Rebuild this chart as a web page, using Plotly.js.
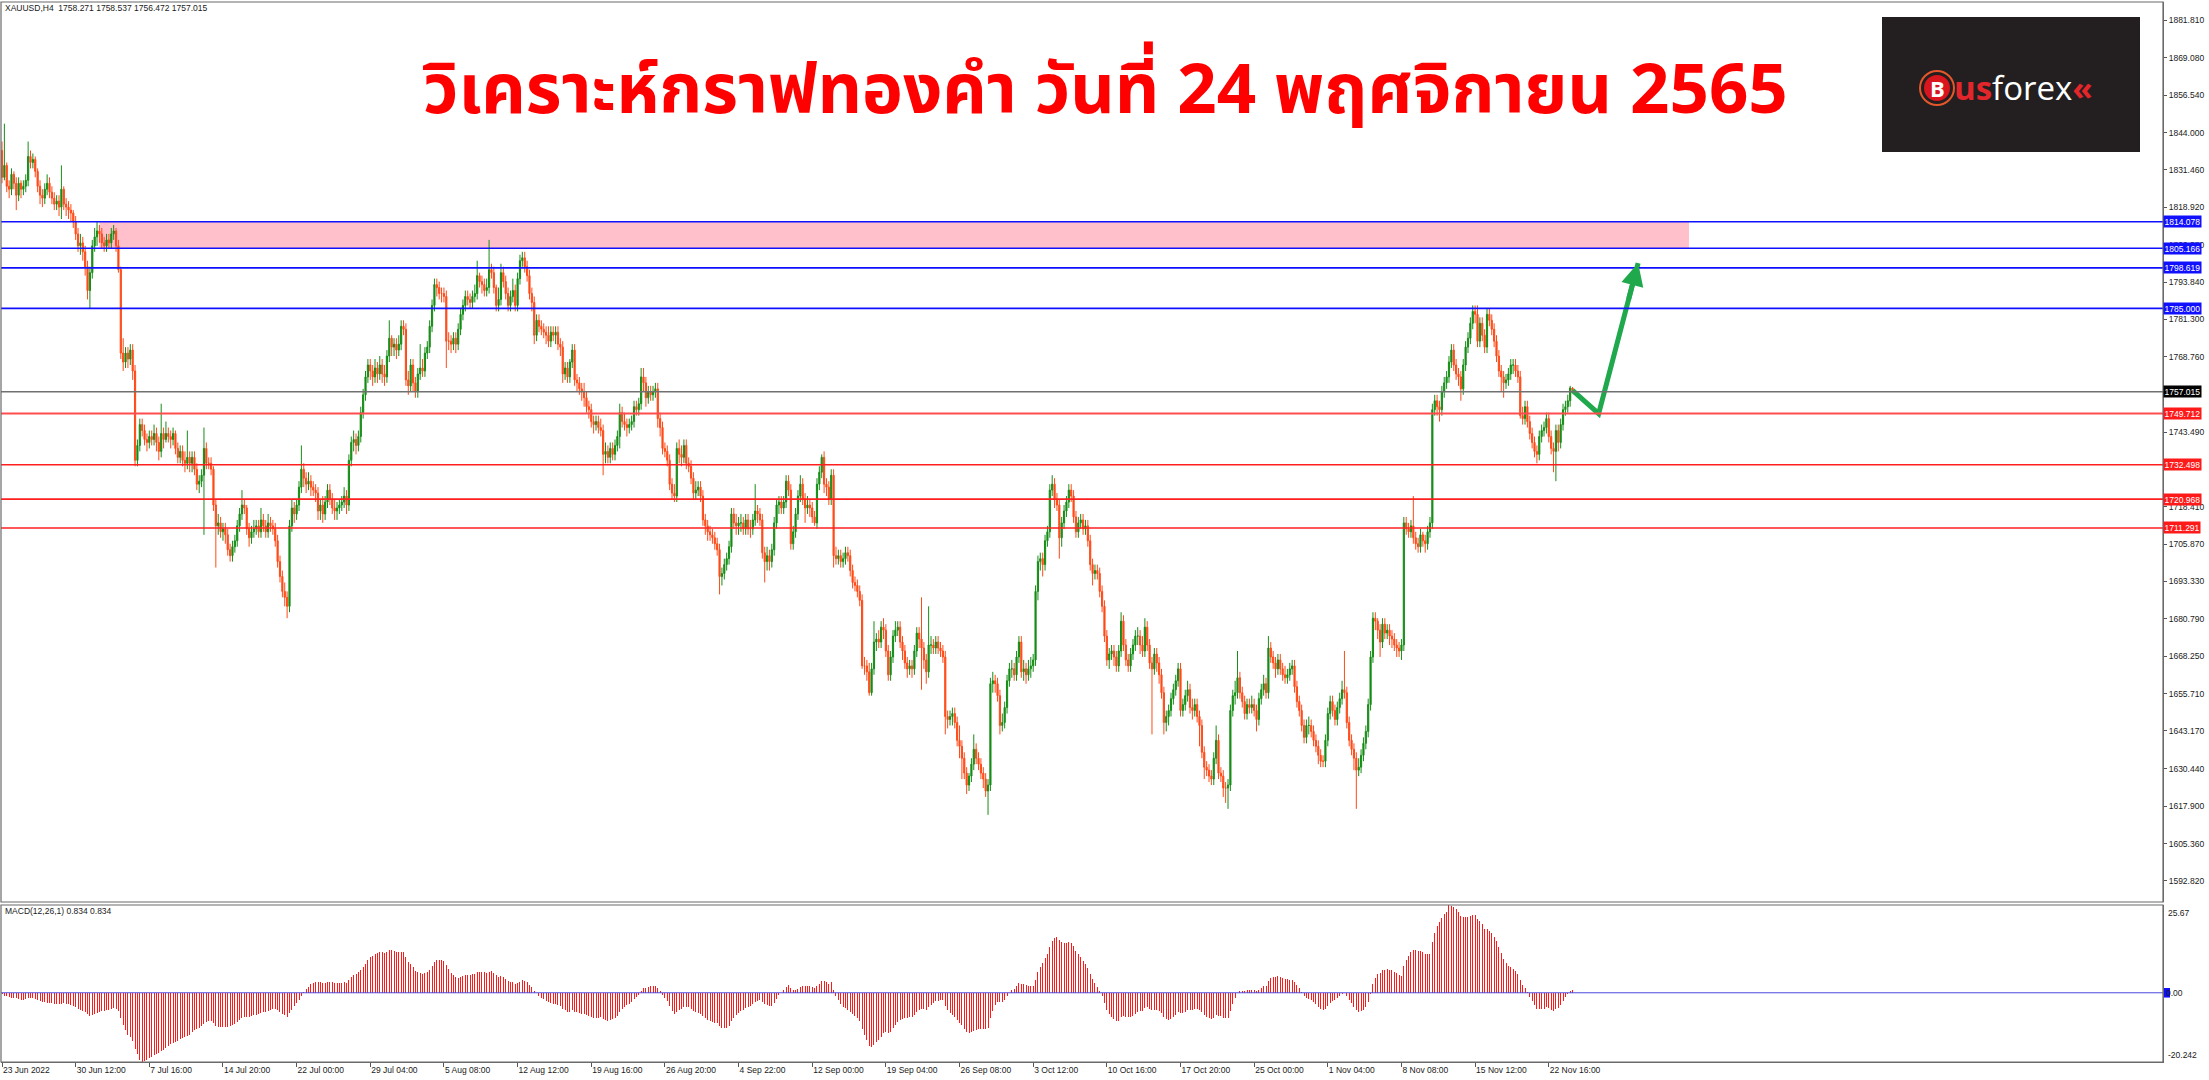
<!DOCTYPE html>
<html><head><meta charset="utf-8">
<script src="https://cdn.plot.ly/plotly-3.0.1.min.js"></script>
<style>html,body{margin:0;padding:0;background:#fff;}#chart{width:2209px;height:1080px;}</style>
</head><body><div id="chart"></div>
<script>
// ---- DATA (XAUUSD H4) ----
const opens = [
1838,1829,1833,1826,1825,1830,1827,1823,1827,1825,
1826,1828,1836,1834,1835,1831,1826,1823,1822,1825,
1827,1824,1822,1820,1821,1819,1825,1820,1819,1818,
1817,1814,1810,1806,1807,1804,1799,1791,1797,1806,
1809,1811,1810,1807,1806,1808,1807,1810,1811,1806,
1798,1770,1767,1770,1768,1771,1764,1734,1739,1746,
1744,1741,1740,1742,1741,1743,1740,1737,1743,1741,
1743,1742,1741,1743,1738,1735,1737,1734,1733,1735,
1733,1735,1731,1726,1727,1729,1738,1733,1733,1731,
1719,1712,1713,1710,1711,1709,1704,1702,1705,1707,
1712,1716,1719,1718,1711,1708,1710,1711,1712,1710,
1714,1712,1710,1713,1712,1711,1707,1700,1695,1690,
1688,1685,1712,1718,1716,1719,1725,1731,1728,1726,
1727,1725,1724,1723,1717,1719,1716,1720,1724,1721,
1718,1717,1718,1719,1720,1722,1719,1734,1740,1741,
1739,1742,1750,1756,1762,1766,1764,1762,1765,1763,
1766,1763,1762,1769,1775,1772,1773,1771,1773,1779,
1778,1761,1759,1766,1760,1757,1763,1765,1764,1770,
1772,1779,1786,1793,1792,1790,1790,1789,1774,1774,
1773,1775,1773,1778,1783,1786,1789,1788,1787,1789,
1790,1796,1794,1793,1791,1792,1798,1797,1792,1786,
1788,1797,1794,1790,1786,1789,1791,1786,1795,1801,
1802,1799,1796,1790,1787,1776,1781,1779,1778,1777,
1776,1774,1777,1776,1777,1773,1772,1763,1765,1762,
1767,1771,1761,1760,1758,1757,1755,1752,1751,1747,
1746,1747,1745,1744,1736,1737,1735,1738,1736,1739,
1742,1750,1747,1746,1745,1746,1747,1752,1751,1753,
1762,1760,1755,1757,1756,1757,1758,1748,1745,1738,
1737,1734,1726,1723,1722,1738,1736,1735,1739,1733,
1732,1728,1723,1724,1725,1722,1714,1712,1710,1709,
1708,1706,1704,1695,1696,1699,1701,1705,1716,1713,
1712,1713,1713,1711,1714,1711,1711,1714,1717,1716,
1714,1703,1700,1702,1700,1704,1713,1719,1720,1718,
1720,1727,1724,1706,1710,1716,1722,1726,1721,1718,
1719,1718,1715,1713,1726,1730,1735,1726,1725,1721,
1729,1702,1701,1702,1700,1701,1703,1702,1697,1693,
1692,1690,1687,1665,1665,1663,1656,1664,1673,1674,
1673,1678,1677,1670,1662,1668,1675,1677,1678,1673,
1670,1666,1664,1665,1664,1670,1676,1674,1671,1667,
1663,1672,1672,1671,1673,1671,1670,1668,1648,1647,
1648,1649,1646,1640,1638,1634,1629,1625,1628,1632,
1637,1634,1632,1629,1627,1623,1625,1659,1660,1659,
1655,1645,1646,1651,1660,1664,1664,1662,1668,1673,
1663,1664,1662,1664,1665,1667,1690,1700,1701,1699,
1707,1710,1724,1726,1721,1719,1708,1713,1717,1720,
1724,1722,1715,1710,1713,1714,1711,1712,1707,1699,
1696,1697,1696,1690,1685,1675,1667,1669,1670,1668,
1665,1670,1680,1672,1667,1665,1669,1672,1675,1675,
1672,1670,1678,1672,1666,1664,1669,1666,1662,1656,
1646,1648,1650,1654,1657,1660,1664,1650,1652,1655,
1657,1651,1650,1652,1648,1645,1636,1631,1630,1628,
1627,1634,1640,1629,1628,1624,1624,1625,1650,1655,
1656,1661,1656,1653,1649,1652,1651,1652,1650,1647,
1654,1657,1659,1656,1671,1668,1666,1664,1667,1664,
1662,1661,1662,1664,1665,1658,1653,1650,1645,1641,
1645,1645,1643,1640,1638,1635,1633,1633,1640,1649,
1653,1650,1647,1651,1654,1657,1656,1646,1640,1637,
1634,1630,1631,1635,1639,1643,1652,1668,1681,1680,
1677,1673,1679,1676,1677,1675,1674,1672,1671,1670,
1672,1713,1711,1710,1712,1708,1706,1705,1709,1707,
1706,1710,1713,1751,1754,1752,1751,1757,1760,1762,
1767,1771,1766,1763,1762,1758,1766,1772,1775,1780,
1784,1783,1774,1780,1776,1772,1783,1781,1778,1774,
1769,1764,1762,1760,1761,1763,1766,1766,1764,1762,
1749,1748,1752,1747,1743,1740,1737,1736,1742,1744,
1745,1748,1742,1738,1737,1744,1740,1746,1751,1752,
1754,1758.271];
const highs = [
1841,1847,1834,1828,1832,1831,1829,1829,1828,1828,
1830,1841,1838,1837,1836,1832,1828,1825,1827,1830,
1829,1826,1824,1823,1823,1833,1826,1822,1821,1820,
1818,1816,1812,1810,1809,1806,1801,1799,1808,1812,
1814,1813,1812,1809,1810,1810,1812,1813,1812,1808,
1799,1775,1772,1772,1773,1773,1766,1741,1748,1748,
1746,1743,1744,1744,1746,1745,1742,1753,1745,1747,
1745,1744,1745,1744,1740,1739,1739,1737,1744,1737,
1737,1737,1733,1729,1731,1745,1740,1735,1735,1732,
1721,1716,1715,1713,1713,1711,1706,1707,1709,1714,
1718,1724,1721,1719,1713,1712,1714,1714,1714,1718,
1716,1714,1716,1715,1714,1713,1709,1702,1697,1693,
1690,1714,1721,1720,1721,1727,1739,1733,1730,1730,
1729,1727,1726,1725,1721,1722,1722,1726,1726,1723,
1721,1720,1721,1722,1725,1724,1736,1742,1744,1743,
1744,1752,1758,1764,1768,1768,1766,1768,1767,1769,
1768,1766,1771,1781,1776,1775,1775,1776,1781,1781,
1780,1764,1768,1768,1762,1765,1773,1768,1772,1774,
1781,1788,1795,1795,1794,1792,1792,1791,1777,1776,
1777,1777,1780,1785,1788,1791,1791,1790,1791,1793,
1801,1797,1796,1795,1795,1808,1800,1799,1793,1792,
1800,1799,1796,1792,1791,1795,1793,1797,1803,1804,
1804,1801,1798,1792,1789,1783,1783,1781,1780,1779,
1779,1779,1779,1779,1779,1775,1774,1767,1767,1768,
1773,1773,1763,1762,1760,1760,1757,1754,1753,1749,
1749,1749,1748,1746,1740,1739,1740,1740,1741,1744,
1753,1752,1750,1748,1748,1749,1754,1754,1755,1765,
1765,1762,1759,1759,1759,1760,1760,1750,1747,1740,
1739,1736,1728,1726,1740,1741,1739,1741,1741,1735,
1734,1730,1727,1727,1727,1724,1716,1714,1712,1711,
1710,1708,1706,1698,1701,1703,1707,1718,1718,1716,
1715,1716,1715,1716,1716,1714,1716,1726,1719,1718,
1716,1705,1705,1704,1706,1715,1721,1722,1722,1722,
1729,1729,1726,1712,1718,1724,1729,1728,1723,1722,
1721,1720,1717,1728,1732,1736,1737,1728,1727,1731,
1731,1705,1704,1704,1703,1705,1705,1704,1699,1695,
1694,1692,1689,1668,1667,1666,1666,1680,1676,1677,
1680,1681,1679,1672,1670,1677,1680,1680,1680,1675,
1672,1668,1667,1667,1672,1678,1678,1688,1673,1669,
1685,1675,1674,1675,1675,1673,1672,1670,1650,1650,
1651,1651,1648,1645,1640,1636,1631,1629,1634,1642,
1639,1636,1634,1631,1629,1627,1661,1663,1662,1661,
1657,1649,1653,1662,1666,1667,1666,1670,1675,1675,
1667,1666,1667,1668,1669,1692,1702,1703,1703,1709,
1712,1726,1729,1728,1723,1721,1715,1719,1722,1726,
1726,1724,1717,1715,1716,1716,1714,1714,1709,1701,
1699,1699,1698,1692,1687,1677,1671,1672,1672,1670,
1672,1683,1682,1674,1669,1671,1674,1677,1678,1677,
1675,1681,1680,1674,1668,1671,1671,1668,1664,1658,
1650,1652,1656,1659,1662,1666,1666,1654,1657,1660,
1659,1654,1654,1654,1650,1647,1638,1633,1632,1630,
1636,1645,1642,1631,1630,1626,1627,1652,1657,1660,
1670,1663,1658,1655,1654,1654,1655,1654,1652,1656,
1659,1662,1661,1675,1673,1670,1668,1669,1669,1666,
1665,1664,1666,1667,1667,1660,1655,1652,1647,1647,
1648,1647,1645,1642,1640,1637,1635,1642,1651,1655,
1655,1652,1653,1656,1660,1670,1658,1648,1642,1639,
1636,1634,1637,1641,1645,1654,1670,1683,1683,1681,
1679,1681,1681,1679,1679,1677,1676,1674,1673,1674,
1715,1715,1713,1714,1722,1710,1708,1711,1710,1709,
1712,1715,1753,1756,1756,1754,1759,1762,1764,1769,
1773,1773,1768,1765,1764,1768,1774,1777,1782,1786,
1786,1786,1782,1782,1778,1785,1785,1783,1780,1776,
1771,1766,1764,1763,1765,1768,1768,1768,1766,1764,
1752,1754,1754,1749,1745,1742,1739,1744,1746,1747,
1750,1750,1744,1740,1746,1746,1748,1753,1754,1756,
1759,1758.537];
const lows = [
1827,1828,1824,1822,1823,1825,1818,1821,1822,1823,
1824,1826,1832,1832,1829,1824,1820,1819,1820,1823,
1822,1820,1818,1818,1816,1815,1818,1816,1815,1814,
1812,1808,1804,1803,1801,1796,1788,1785,1795,1804,
1806,1807,1805,1804,1804,1805,1805,1808,1804,1797,
1768,1764,1765,1765,1766,1761,1732,1732,1737,1742,
1739,1737,1738,1739,1739,1737,1734,1735,1738,1740,
1740,1738,1739,1736,1733,1733,1732,1730,1731,1730,
1730,1729,1724,1723,1725,1709,1731,1731,1729,1717,
1698,1709,1708,1707,1706,1702,1700,1700,1703,1705,
1710,1714,1716,1709,1705,1706,1708,1709,1708,1708,
1710,1708,1708,1710,1709,1705,1698,1693,1688,1685,
1681,1683,1710,1713,1714,1717,1723,1725,1723,1724,
1722,1722,1720,1714,1714,1713,1714,1718,1719,1716,
1714,1714,1716,1717,1718,1716,1717,1732,1737,1736,
1737,1740,1748,1754,1760,1761,1759,1760,1760,1761,
1760,1759,1760,1767,1769,1769,1768,1769,1771,1776,
1759,1756,1757,1757,1755,1755,1761,1762,1762,1768,
1770,1777,1784,1789,1788,1787,1787,1765,1771,1770,
1771,1770,1771,1776,1781,1784,1786,1785,1785,1787,
1788,1792,1790,1789,1789,1790,1795,1790,1784,1784,
1786,1792,1788,1784,1784,1787,1784,1784,1793,1799,
1797,1794,1788,1784,1773,1774,1777,1776,1775,1773,
1772,1772,1774,1773,1771,1769,1760,1761,1760,1760,
1765,1759,1757,1756,1754,1752,1750,1748,1745,1743,
1744,1743,1742,1729,1733,1733,1733,1734,1734,1737,
1738,1745,1744,1742,1743,1744,1745,1749,1749,1751,
1757,1752,1753,1754,1754,1755,1745,1742,1736,1735,
1732,1724,1721,1720,1720,1733,1732,1733,1731,1730,
1726,1721,1721,1722,1720,1712,1709,1707,1707,1706,
1704,1702,1689,1692,1694,1697,1699,1703,1711,1709,
1709,1710,1709,1709,1709,1708,1709,1712,1713,1712,
1701,1693,1697,1697,1698,1702,1711,1716,1716,1716,
1718,1722,1704,1704,1708,1714,1720,1719,1713,1716,
1715,1713,1712,1711,1724,1728,1723,1722,1719,1719,
1698,1699,1699,1698,1698,1699,1700,1695,1691,1690,
1688,1685,1664,1662,1660,1655,1655,1662,1670,1671,
1671,1674,1668,1660,1660,1666,1673,1675,1671,1667,
1664,1661,1662,1661,1662,1668,1671,1657,1664,1659,
1661,1669,1669,1669,1669,1668,1666,1642,1644,1645,
1645,1644,1638,1634,1627,1627,1622,1623,1626,1630,
1632,1630,1627,1624,1621,1615,1623,1656,1656,1653,
1642,1643,1644,1649,1658,1661,1660,1660,1666,1661,
1660,1659,1660,1661,1663,1665,1687,1697,1695,1697,
1705,1708,1722,1718,1717,1701,1705,1711,1715,1718,
1720,1713,1708,1708,1711,1709,1709,1705,1697,1692,
1694,1694,1688,1683,1673,1665,1664,1667,1665,1663,
1663,1668,1670,1665,1663,1663,1667,1670,1672,1669,
1668,1668,1670,1664,1642,1662,1663,1659,1654,1642,
1643,1645,1648,1652,1655,1658,1648,1648,1650,1653,
1649,1647,1648,1646,1638,1634,1627,1628,1626,1625,
1625,1632,1627,1626,1621,1619,1617,1623,1648,1652,
1654,1654,1651,1647,1647,1649,1649,1648,1643,1645,
1652,1655,1654,1654,1666,1664,1661,1662,1662,1660,
1659,1659,1660,1662,1656,1651,1648,1643,1639,1639,
1642,1641,1638,1636,1632,1631,1631,1631,1638,1647,
1648,1645,1645,1649,1652,1654,1644,1638,1635,1630,
1617,1628,1629,1633,1637,1641,1650,1666,1677,1674,
1668,1671,1674,1674,1672,1671,1670,1668,1668,1667,
1670,1709,1708,1708,1706,1704,1703,1703,1705,1703,
1704,1708,1711,1749,1749,1747,1749,1755,1758,1760,
1765,1764,1761,1759,1754,1756,1764,1770,1773,1778,
1780,1772,1772,1774,1770,1770,1779,1776,1772,1767,
1762,1757,1755,1758,1759,1761,1763,1762,1760,1748,
1746,1746,1745,1741,1738,1735,1733,1734,1740,1742,
1743,1740,1736,1730,1727,1737,1738,1744,1749,1750,
1752,1756.472];
const closes = [
1829,1833,1826,1825,1830,1827,1823,1827,1825,1826,
1828,1836,1834,1835,1831,1826,1823,1822,1825,1827,
1824,1822,1820,1821,1819,1825,1820,1819,1818,1817,
1814,1810,1806,1807,1804,1799,1791,1797,1806,1809,
1811,1810,1807,1806,1808,1807,1810,1811,1806,1798,
1770,1767,1770,1768,1771,1764,1734,1739,1746,1744,
1741,1740,1742,1741,1743,1740,1737,1743,1741,1743,
1742,1741,1743,1738,1735,1737,1734,1733,1735,1733,
1735,1731,1726,1727,1729,1738,1733,1733,1731,1719,
1712,1713,1710,1711,1709,1704,1702,1705,1707,1712,
1716,1719,1718,1711,1708,1710,1711,1712,1710,1714,
1712,1710,1713,1712,1711,1707,1700,1695,1690,1688,
1685,1712,1718,1716,1719,1725,1731,1728,1726,1727,
1725,1724,1723,1717,1719,1716,1720,1724,1721,1718,
1717,1718,1719,1720,1722,1719,1734,1740,1741,1739,
1742,1750,1756,1762,1766,1764,1762,1765,1763,1766,
1763,1762,1769,1775,1772,1773,1771,1773,1779,1778,
1761,1759,1766,1760,1757,1763,1765,1764,1770,1772,
1779,1786,1793,1792,1790,1790,1789,1774,1774,1773,
1775,1773,1778,1783,1786,1789,1788,1787,1789,1790,
1796,1794,1793,1791,1792,1798,1797,1792,1786,1788,
1797,1794,1790,1786,1789,1791,1786,1795,1801,1802,
1799,1796,1790,1787,1776,1781,1779,1778,1777,1776,
1774,1777,1776,1777,1773,1772,1763,1765,1762,1767,
1771,1761,1760,1758,1757,1755,1752,1751,1747,1746,
1747,1745,1744,1736,1737,1735,1738,1736,1739,1742,
1750,1747,1746,1745,1746,1747,1752,1751,1753,1762,
1760,1755,1757,1756,1757,1758,1748,1745,1738,1737,
1734,1726,1723,1722,1738,1736,1735,1739,1733,1732,
1728,1723,1724,1725,1722,1714,1712,1710,1709,1708,
1706,1704,1695,1696,1699,1701,1705,1716,1713,1712,
1713,1713,1711,1714,1711,1711,1714,1717,1716,1714,
1703,1700,1702,1700,1704,1713,1719,1720,1718,1720,
1727,1724,1706,1710,1716,1722,1726,1721,1718,1719,
1718,1715,1713,1726,1730,1735,1726,1725,1721,1729,
1702,1701,1702,1700,1701,1703,1702,1697,1693,1692,
1690,1687,1665,1665,1663,1656,1664,1673,1674,1673,
1678,1677,1670,1662,1668,1675,1677,1678,1673,1670,
1666,1664,1665,1664,1670,1676,1674,1671,1667,1663,
1672,1672,1671,1673,1671,1670,1668,1648,1647,1648,
1649,1646,1640,1638,1634,1629,1625,1628,1632,1637,
1634,1632,1629,1627,1623,1625,1659,1660,1659,1655,
1645,1646,1651,1660,1664,1664,1662,1668,1673,1663,
1664,1662,1664,1665,1667,1690,1700,1701,1699,1707,
1710,1724,1726,1721,1719,1708,1713,1717,1720,1724,
1722,1715,1710,1713,1714,1711,1712,1707,1699,1696,
1697,1696,1690,1685,1675,1667,1669,1670,1668,1665,
1670,1680,1672,1667,1665,1669,1672,1675,1675,1672,
1670,1678,1672,1666,1664,1669,1666,1662,1656,1646,
1648,1650,1654,1657,1660,1664,1650,1652,1655,1657,
1651,1650,1652,1648,1645,1636,1631,1630,1628,1627,
1634,1640,1629,1628,1624,1624,1625,1650,1655,1656,
1661,1656,1653,1649,1652,1651,1652,1650,1647,1654,
1657,1659,1656,1671,1668,1666,1664,1667,1664,1662,
1661,1662,1664,1665,1658,1653,1650,1645,1641,1645,
1645,1643,1640,1638,1635,1633,1633,1640,1649,1653,
1650,1647,1651,1654,1657,1656,1646,1640,1637,1634,
1630,1631,1635,1639,1643,1652,1668,1681,1680,1677,
1673,1679,1676,1677,1675,1674,1672,1671,1670,1672,
1713,1711,1710,1712,1708,1706,1705,1709,1707,1706,
1710,1713,1751,1754,1752,1751,1757,1760,1762,1767,
1771,1766,1763,1762,1758,1766,1772,1775,1780,1784,
1783,1774,1780,1776,1772,1783,1781,1778,1774,1769,
1764,1762,1760,1761,1763,1766,1766,1764,1762,1749,
1748,1752,1747,1743,1740,1737,1736,1742,1744,1745,
1748,1742,1738,1737,1744,1740,1746,1751,1752,1754,
1758.3,1757.015];
const macd = [
-0.5,-0.8,-1,-1.2,-1.4,-1.5,-1.6,-1.8,-2,-2,
-1.8,-1.6,-1.5,-1.6,-1.8,-2,-2.3,-2.6,-2.8,-2.9,
-3,-3.1,-3.2,-3.3,-3.3,-3.2,-3.1,-3.2,-3.3,-3.5,
-3.8,-4.1,-4.6,-4.9,-5.2,-5.6,-6.3,-6.7,-6.5,-6.2,
-5.9,-5.6,-5.4,-5.2,-5,-4.9,-4.7,-4.5,-4.6,-5.2,
-7.5,-9.5,-11,-12.2,-13,-14,-16.5,-18,-19.8,-20.242,
-20,-19.6,-19,-18.7,-18.3,-17.9,-17.6,-17.1,-16.6,-16.1,
-15.6,-15.1,-14.6,-14.3,-14,-13.6,-13.3,-13,-12.6,-12.3,
-11.5,-11,-10.6,-10.2,-9.8,-9,-8.6,-8.3,-8.2,-8.8,
-9.6,-9.9,-10.1,-10.1,-10,-9.9,-9.7,-9.4,-9,-8.5,
-8,-7.5,-7.2,-7.1,-7,-6.8,-6.6,-6.4,-6.2,-5.9,
-5.7,-5.5,-5.2,-5,-4.8,-4.8,-5.1,-5.6,-6.1,-6.6,
-7,-6,-4.9,-3.9,-3,-2.1,-0.8,0.2,1,1.8,
2.5,3,3.3,3.2,3.1,2.8,2.9,3.2,3.3,3.1,
2.9,2.8,2.8,2.9,3.1,2.9,3.6,4.5,5.2,5.6,
6,6.6,7.4,8.5,9.6,10.4,10.9,11.4,11.6,11.9,
11.8,11.6,11.9,12.4,12.4,12.3,12,11.8,12,11.8,
10.4,9.1,8.5,7.5,6.4,6,5.8,5.5,5.8,6.1,
6.8,7.8,9,9.5,9.6,9.5,9.3,8,6.9,5.9,
5.2,4.5,4.3,4.5,4.8,5.2,5.3,5.3,5.4,5.5,
6,6.2,6.2,6,5.8,6.2,6.3,5.9,5.1,4.6,
4.8,4.6,4.1,3.5,3.3,3.1,2.6,2.8,3.3,3.6,
3.5,3.1,2.4,1.6,0.4,-0.2,-0.8,-1.4,-1.9,-2.4,
-2.8,-3,-3.2,-3.2,-3.5,-3.8,-4.6,-5,-5.5,-5.5,
-5.1,-5.5,-5.7,-5.9,-6.1,-6.3,-6.6,-6.8,-7.1,-7.3,
-7.3,-7.3,-7.2,-7.8,-8,-8.2,-7.9,-7.7,-7.3,-6.7,
-5.5,-4.7,-4.1,-3.7,-3.2,-2.7,-1.9,-1.3,-0.7,0.5,
1.3,1.5,1.8,1.9,2,2.1,1.4,0.6,-0.6,-1.5,
-2.5,-3.9,-5.2,-6.2,-5.5,-5,-4.7,-4.1,-4.2,-4.3,
-4.7,-5.4,-5.7,-5.8,-6.1,-6.9,-7.5,-8,-8.3,-8.5,
-8.7,-8.9,-9.8,-10.3,-10.4,-10.2,-9.7,-8.2,-7.3,-6.6,
-5.9,-5.3,-5,-4.5,-4.2,-3.9,-3.4,-2.8,-2.4,-2.2,
-2.8,-3.4,-3.6,-3.9,-3.8,-2.9,-1.7,-0.7,0,0.7,
1.8,2.4,1.3,0.7,0.7,1.1,1.8,2,2,2.1,
2,1.7,1.3,1.9,2.6,3.5,3.4,3.2,2.7,3.1,
0.9,-0.8,-2.1,-3.3,-4.1,-4.5,-4.9,-5.5,-6.2,-6.8,
-7.5,-8.3,-10.6,-12.4,-13.9,-15.5,-15.8,-15.2,-14.5,-13.9,
-12.8,-11.9,-11.6,-11.9,-11.4,-10.4,-9.4,-8.4,-7.9,-7.6,
-7.5,-7.4,-7.2,-7,-6.4,-5.5,-4.9,-4.6,-4.6,-4.9,
-4.1,-3.5,-3,-2.5,-2.3,-2.1,-2.1,-3.8,-5.1,-6,
-6.6,-7.2,-8,-8.7,-9.5,-10.5,-11.4,-11.7,-11.6,-11.1,
-10.8,-10.6,-10.5,-10.5,-10.6,-10.3,-7.5,-5.3,-3.7,-2.7,
-2.7,-2.6,-2.1,-1,0,0.8,1.2,2,2.9,2.7,
2.5,2.2,2.1,2,2,3.8,6,7.6,8.7,10.1,
11.4,13.5,15.1,15.9,16.2,15.3,14.9,14.7,14.6,14.8,
14.6,13.6,12.3,11.3,10.4,9.3,8.4,7.2,5.6,4,
2.8,1.7,0.4,-1,-2.9,-4.9,-6.2,-7,-7.7,-8.3,
-8.2,-7.1,-6.9,-7,-7.2,-7.1,-6.7,-6.1,-5.6,-5.4,
-5.2,-4.4,-4.3,-4.6,-5,-4.9,-5,-5.3,-5.9,-7.1,
-7.7,-7.9,-7.6,-7,-6.4,-5.5,-5.8,-5.8,-5.5,-5,
-5,-4.9,-4.6,-4.7,-4.9,-5.7,-6.5,-7,-7.5,-7.8,
-7.4,-6.5,-6.8,-6.9,-7.3,-7.4,-7.4,-5.2,-3.2,-1.5,
-0.1,0.4,0.6,0.5,0.7,0.8,0.9,0.8,0.5,0.9,
1.3,1.9,2,3.4,4.2,4.6,4.7,4.9,4.7,4.4,
4.1,3.9,3.8,3.8,3.2,2.3,1.4,0.3,-0.9,-1.4,
-1.8,-2.2,-2.8,-3.4,-4.1,-4.7,-5,-4.8,-3.9,-2.9,
-2.3,-2.1,-1.6,-1,-0.3,0,-0.9,-2,-3.1,-4.2,
-5.1,-5.5,-5.4,-4.9,-4.1,-2.8,-0.4,2.5,4.3,5.4,
5.8,6.6,6.8,6.9,6.8,6.6,6.2,5.8,5.3,5,
7.7,9.6,10.9,12,12.5,12.5,12.2,12.2,11.9,11.4,
11.3,11.4,14.8,17.6,19.5,20.6,21.9,22.9,23.7,25.67,
25.4,25,24.4,23.6,22.5,22.1,22.1,22.1,22.4,22.8,
22.7,21.6,21,20,18.7,18.6,18.2,17.5,16.4,15,
13.3,11.6,10,8.8,7.9,7.4,6.9,6.3,5.6,3.8,
2.3,1.3,0.1,-1.2,-2.5,-3.7,-4.7,-4.8,-4.8,-4.6,
-4.2,-4.5,-4.9,-5.2,-4.6,-4.4,-3.5,-2.3,-1.3,-0.4,
0.4,0.834];
const xTickBars = [0,31,62,93,124,155,186,217,248,279,310,341,372,403,434,465,496,527,558,589,620,651];
const xTickLabels = ["23 Jun 2022","30 Jun 12:00","7 Jul 16:00","14 Jul 20:00","22 Jul 00:00","29 Jul 04:00","5 Aug 08:00","12 Aug 12:00","19 Aug 16:00","26 Aug 20:00","4 Sep 22:00","12 Sep 00:00","19 Sep 04:00","26 Sep 08:00","3 Oct 12:00","10 Oct 16:00","17 Oct 20:00","25 Oct 00:00","1 Nov 04:00","8 Nov 08:00","15 Nov 12:00","22 Nov 16:00"];
const priceTicks = [1881.81,1869.08,1856.54,1844.00,1831.46,1818.92,1806.38,1793.84,1781.30,1768.76,1743.49,1718.41,1705.87,1693.33,1680.79,1668.25,1655.71,1643.17,1630.44,1617.90,1605.36,1592.82];
const macdTicks = [25.67, -20.242];
const blueLevels = [1814.078, 1805.166, 1798.619, 1785.000];
const redLevels = [1749.712, 1732.498, 1720.968, 1711.291];
const currentPrice = 1757.015;
const zoneBars = [41, 710];
const zonePrices = [1805.166, 1814.078];
const forecastBars = [661, 672, 688.6];
const forecastPrices = [1757.5, 1749.7, 1800.2];
const headerText = "XAUUSD,H4  1758.271 1758.537 1756.472 1757.015";
const macdText = "MACD(12,26,1) 0.834 0.834";
const titleText = "วิเคราะห์กราฟทองคำ วันที่ 24 พฤศจิกายน 2565";

// ---- GEOMETRY ----
const W=2209, H=1080, L=1, R=46, T=2, B=18;
const PW=W-L-R, PH=H-T-B;
const px = x => (x-L)/PW;
const py = y => (H-B-y)/PH;
const idx = closes.map((_,i)=>i);
const smallFont = {family:'Liberation Sans, Arial, sans-serif', size:8.5, color:'#1a1a1a'};

const traces = [
  {type:'bar', x:idx, y:macd, xaxis:'x', yaxis:'y2', width:0.42,
   marker:{color:'#ff1a1a', line:{width:0}}, hoverinfo:'skip'},
  {type:'candlestick', x:idx, open:opens, high:highs, low:lows, close:closes,
   xaxis:'x', yaxis:'y', whiskerwidth:0,
   increasing:{line:{color:'#168c16', width:1}, fillcolor:'#168c16'},
   decreasing:{line:{color:'#ff4a17', width:1}, fillcolor:'#ff4a17'},
   hoverinfo:'skip'},
  {type:'scatter', mode:'lines', x:forecastBars, y:forecastPrices, xaxis:'x', yaxis:'y',
   line:{color:'#1fa84c', width:5}, hoverinfo:'skip'}
];

const shapes = [];
shapes.push({type:'rect', xref:'x', yref:'y', x0:zoneBars[0], x1:zoneBars[1], y0:zonePrices[0], y1:zonePrices[1],
  fillcolor:'#ffc0cb', line:{width:0}, layer:'below'});
blueLevels.forEach(v=>shapes.push({type:'line', xref:'paper', yref:'y', x0:0, x1:1, y0:v, y1:v, line:{color:'#1010ff', width:1.6}}));
redLevels.forEach((v,k)=>shapes.push({type:'line', xref:'paper', yref:'y', x0:0, x1:1, y0:v, y1:v, line:{color: k===0?'#ff4d4d':'#ff1f1f', width: k===0?2.2:1.6}}));
shapes.push({type:'line', xref:'paper', yref:'y', x0:0, x1:1, y0:currentPrice, y1:currentPrice, line:{color:'#707070', width:1.3}});
shapes.push({type:'line', xref:'paper', yref:'y2', x0:0, x1:1, y0:0, y1:0, line:{color:'#4a4ae0', width:1}});
shapes.push({type:'rect', xref:'paper', yref:'paper', x0:0, x1:1, y0:py(902), y1:1, line:{color:'#6a6a6a', width:1.2}, fillcolor:'rgba(0,0,0,0)'});
shapes.push({type:'rect', xref:'paper', yref:'paper', x0:0, x1:1, y0:0, y1:py(905), line:{color:'#6a6a6a', width:1.2}, fillcolor:'rgba(0,0,0,0)'});
// logo
shapes.push({type:'rect', xref:'paper', yref:'paper', x0:px(1882), x1:px(2140), y0:py(152), y1:py(17), fillcolor:'#231f20', line:{width:0}});
shapes.push({type:'circle', xref:'paper', yref:'paper', x0:px(1920), x1:px(1954), y0:py(105), y1:py(71), fillcolor:'rgba(0,0,0,0)', line:{color:'#e4572a', width:2}});
shapes.push({type:'circle', xref:'paper', yref:'paper', x0:px(1924), x1:px(1950), y0:py(101), y1:py(75), fillcolor:'#d9161d', line:{width:0}});
shapes.push({type:'rect', xref:'paper', yref:'y2', x0:px(2164), x1:px(2170), y0:-1.4, y1:1.4, fillcolor:'#1010ff', line:{width:0}});

const annotations = [];
annotations.push({xref:'paper', yref:'paper', x:px(3), y:py(8), xanchor:'left', yanchor:'middle', showarrow:false, text:headerText, font:smallFont});
annotations.push({xref:'paper', yref:'paper', x:px(3), y:py(911), xanchor:'left', yanchor:'middle', showarrow:false, text:macdText, font:smallFont});
annotations.push({xref:'paper', yref:'paper', x:px(1105), y:py(92), xanchor:'center', yanchor:'middle', showarrow:false,
  text:'<b>'+titleText+'</b>', font:{family:'Noto Sans Thai, Noto Sans, DejaVu Sans, sans-serif', size:69, color:'#ff0000'}});
annotations.push({xref:'paper', yref:'paper', x:px(1937), y:py(88), xanchor:'center', yanchor:'middle', showarrow:false,
  text:'<b>B</b>', font:{family:'Open Sans, sans-serif', size:22, color:'#ffffff'}});
annotations.push({xref:'paper', yref:'paper', x:px(1952), y:py(87), xanchor:'left', yanchor:'middle', showarrow:false,
  text:'<span style="color:#e3262b"><b>us</b></span>forex<span style="color:#e3262b"><b>«</b></span>',
  font:{family:'Open Sans, sans-serif', size:33, color:'#ffffff'}});
const levelLabel = (v,bg)=>({xref:'paper', yref:'y', x:1, y:v, xanchor:'left', yanchor:'middle', showarrow:false,
  text:v.toFixed(3), bgcolor:bg, borderpad:0.5, font:{family:'Liberation Sans, Arial, sans-serif', size:8.5, color:'#ffffff'}});
blueLevels.forEach(v=>annotations.push(levelLabel(v,'#1010ff')));
redLevels.forEach(v=>annotations.push(levelLabel(v,'#ff1a1a')));
annotations.push(levelLabel(currentPrice,'#000000'));
annotations.push({xref:'paper', yref:'paper', x:px(2166), y:py(906), xanchor:'left', yanchor:'top', showarrow:false, text:macdTicks[0].toFixed(2), font:smallFont});
annotations.push({xref:'paper', yref:'paper', x:px(2166), y:py(1062), xanchor:'left', yanchor:'bottom', showarrow:false, text:macdTicks[1].toFixed(3), font:smallFont});
annotations.push({xref:'paper', yref:'y2', x:px(2164), y:0, xanchor:'left', yanchor:'middle', showarrow:false, text:(0).toFixed(2), font:smallFont});
const n = forecastBars.length;
annotations.push({xref:'x', yref:'y', axref:'x', ayref:'y',
  x:forecastBars[n-1], y:forecastPrices[n-1],
  ax:forecastBars[n-1]-0.25*(forecastBars[n-1]-forecastBars[n-2]),
  ay:forecastPrices[n-1]-0.25*(forecastPrices[n-1]-forecastPrices[n-2]),
  showarrow:true, arrowhead:2, arrowsize:0.9, arrowwidth:5, arrowcolor:'#1fa84c', text:''});

const layout = {
  width:W, height:H, margin:{l:L, r:R, t:T, b:B},
  paper_bgcolor:'#ffffff', plot_bgcolor:'#ffffff', showlegend:false,
  bargap:0,
  xaxis:{range:[(L-2)/2.376, (W-R-2)/2.376], anchor:'y2', tickmode:'array', tickvals:xTickBars, ticktext:xTickLabels,
    ticks:'outside', ticklen:4, tickcolor:'#555', ticklabelposition:'outside right',
    showgrid:false, zeroline:false, showline:true, linecolor:'#6a6a6a',
    tickfont:smallFont, rangeslider:{visible:false}, fixedrange:true},
  yaxis:{domain:[py(902),1], range:[1881.81-(902-20)/2.979, 1881.81+18/2.979], side:'right',
    tickmode:'array', tickvals:priceTicks, ticktext:priceTicks.map(v=>v.toFixed(3)),
    ticks:'outside', ticklen:3, tickcolor:'#555', showgrid:false, zeroline:false,
    showline:true, linecolor:'#6a6a6a', tickfont:smallFont, fixedrange:true},
  yaxis2:{domain:[0,py(905)], range:[macdTicks[1], macdTicks[0]], side:'right',
    showticklabels:false, ticks:'', showgrid:false, zeroline:false,
    showline:true, linecolor:'#6a6a6a', fixedrange:true},
  shapes:shapes, annotations:annotations
};

Plotly.newPlot('chart', traces, layout, {staticPlot:true, displayModeBar:false});
</script>
</body></html>
